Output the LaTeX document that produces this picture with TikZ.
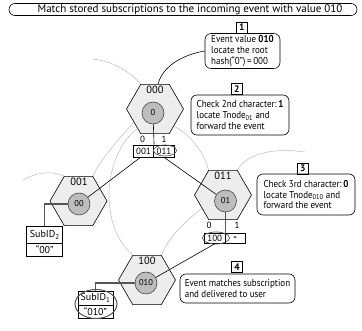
\documentclass[tikz,border=0pt]{standalone}
\usepackage{fontspec}
\setmainfont{PT Sans}
\newfontfamily\notefont{PT Sans}[FakeStretch=0.9]
\usetikzlibrary{shapes.geometric}
\definecolor{hexfill}{HTML}{EDEDED}
\definecolor{circfill}{HTML}{BDBDBD}
\definecolor{ringgray}{HTML}{BBBBBB}
\definecolor{ovalgray}{HTML}{555555}
\begin{document}
\begin{tikzpicture}[x=1pt,y=-1pt,
  every node/.style={font=\fontsize{9.8}{11}\selectfont},
  hexa/.style={regular polygon, regular polygon sides=6, minimum size=57pt, inner sep=0pt, draw=black, fill=hexfill, line width=0.6pt},
  hexlabel/.style={inner sep=0pt, font=\fontsize{10.5}{12}\selectfont},
  inner/.style={circle, draw=black!80, fill=circfill, minimum size=22pt, inner sep=0pt, line width=0.5pt, font=\fontsize{8.5}{10}\selectfont},
  cell/.style={draw, minimum width=20.5pt, minimum height=11pt, inner sep=0pt, line width=0.6pt, font=\fontsize{9}{10}\selectfont},
  subcell/.style={draw, minimum width=36pt, inner sep=0pt, line width=0.6pt, font=\fontsize{10}{12}\selectfont},
  bitlabel/.style={inner sep=0pt, font=\fontsize{9}{10}\selectfont},
  note/.style={draw, rounded corners=6pt, align=left, inner sep=2pt, line width=0.6pt, font=\notefont\fontsize{10}{10.8}\selectfont},
  numbox/.style={draw, line width=0.8pt, minimum size=11pt, inner sep=0pt, font=\fontsize{9.5}{11}\selectfont\bfseries},
  oval/.style={ellipse, draw=ovalgray, line width=0.7pt, inner sep=0pt},
  ring/.style={draw=ringgray, line width=0.5pt},
  link/.style={draw=black, line width=0.6pt},
  subline/.style={draw=ovalgray, line width=1.2pt}
]
\useasboundingbox (0,0) rectangle (362,331);

% header
\node[draw, rounded corners=6pt, minimum width=348pt, minimum height=12pt, inner sep=0pt, line width=0.6pt] (hdr) at (183,9.5) {};
\node[inner sep=0pt, font=\fontsize{11}{12}\selectfont] (hdrtext) at (190,9.5) {Match stored subscriptions to the incoming event with value 010};

% hexagons
\node[hexa] (h000) at (155,109) {};
\node[hexa] (h001) at (78.5,201) {};
\node[hexa] (h011) at (223,195) {};
\node[hexa] (h100) at (147,280) {};

% ring arcs
\coordinate (r1) at (93,59);
\coordinate (r5) at (23,180);
\coordinate (r6) at (305,152);
\path[ring] (r1) .. controls (115,62) and (130,72) .. (h000.120);
\path[ring] (h000.212) .. controls (118,140) and (100,160) .. (h001.60);
\path[ring] (h000.228) .. controls (103,155) and (98,225) .. (h100.120);
\path[ring] (h000.318) .. controls (190,135) and (203,150) .. (h011.120);
\path[ring] (r5) .. controls (35,173) and (50,170) .. (h001.120);
\path[ring] (h011.60) .. controls (246,155) and (270,147) .. (r6);
\path[ring] (h100.60) .. controls (170,235) and (185,222) .. (h011.212);

% hex labels
\node[hexlabel] (l000) at (155,90) {000};
\node[hexlabel] (l001) at (79,181.5) {001};
\node[hexlabel] (l011) at (223,175.5) {011};
\node[hexlabel] (l100) at (147,260.5) {100};

% inner circles
\node[inner] (c0) at (153,113) {0};
\node[inner] (c00) at (79,204) {00};
\node[inner] (c01) at (225.5,201) {01};
\node[inner] (c010) at (146,283) {010};

% table of 000
\node[cell, minimum height=12pt] (t0a) at (143.5,151) {001};
\node[cell, minimum height=12pt] (t0b) at (164,151) {011};
\node[bitlabel] (b00) at (142.7,139.5) {0};
\node[bitlabel] (b01) at (164,139.5) {1};
\node[oval, minimum width=23pt, minimum height=11pt] (e0) at (165,150.5) {};

% table of 011
\node[cell, minimum height=10pt] (t1a) at (214.75,238.5) {100};
\node[cell, minimum height=10pt, font=\fontsize{10}{10}\selectfont\bfseries] (t1b) at (235.25,238.5) {-};
\node[bitlabel] (b10) at (209,225) {0};
\node[bitlabel] (b11) at (237,225) {1};
\node[oval, minimum width=27pt, minimum height=12pt] (e1) at (216,238) {};

% subscription boxes
\node[subcell, minimum height=16.3pt] (s2a) at (44.75,234.85) {SubID\textsubscript{2}};
\node[subcell, minimum height=13pt] (s2b) at (44.75,249.5) {“00”};
\node[subcell, minimum width=35pt, minimum height=14pt] (s1a) at (95.5,298) {SubID\textsubscript{1}};
\node[subcell, minimum width=35pt, minimum height=13pt] (s1b) at (95.5,311.5) {“010”};
\node[oval, line width=1pt, minimum width=42pt, minimum height=29pt] (e2) at (96,304) {};

% connectors
\path[link] (c0) -- (t0a.north east);
\path[link] (c01) -- (t1a.north east);
\path[link] ([xshift=-3pt]t0a.south) -- (c00);
\path[link] (t0b.south) -- (c01);
\path[link] (t1a.south) -- (c010);
\path[subline] (c00.west) -| (s2a.north);
\path[subline] (c010.west) -| (s1a.north);

% notes
\node[numbox] (k1) at (241.7,27.5) {1};
\node[note, minimum width=75pt, minimum height=32pt] (n1) at (242.5,51) {Event value \textbf{010}\\locate the root\\hash(“0”)\,=\,000};
\node[numbox] (k2) at (236.7,89) {2};
\node[note, minimum width=98pt, minimum height=40pt] (n2) at (240,115) {Check 2nd character:\,\textbf{1}\\locate Tnode\textsubscript{01} and\\forward the event};
\node[numbox] (k3) at (302.7,168.5) {3};
\node[note, minimum width=98pt, minimum height=41pt] (n3) at (306,194.5) {Check 3rd character:\,\textbf{0}\\locate Tnode\textsubscript{010} and\\forward the event};
\node[numbox] (k4) at (237,267.3) {4};
\node[note, minimum width=115pt, minimum height=29pt] (n4) at (237.5,288.5) {Event matches subscription\\and delivered to user};

\path[link] (n1.west) .. controls (182,55) and (163,66) .. ([xshift=3pt]h000.north);
\end{tikzpicture}
\end{document}
